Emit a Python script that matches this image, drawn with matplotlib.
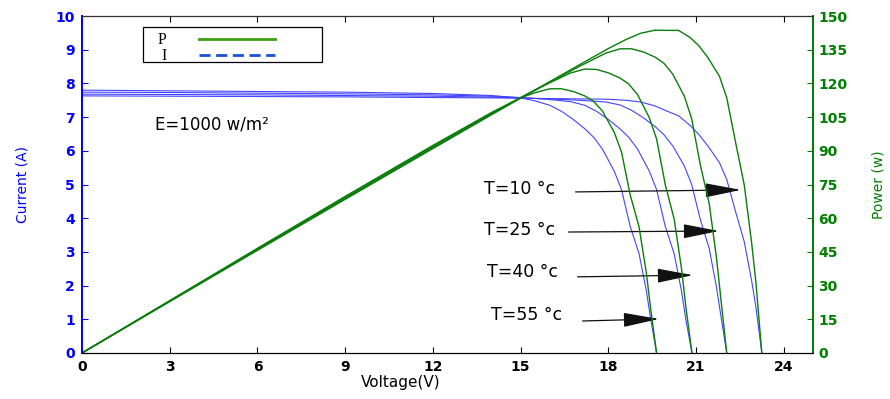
import matplotlib
matplotlib.use('Agg')
import matplotlib.pyplot as plt
from matplotlib.lines import Line2D
from matplotlib.patches import Rectangle

# temperatures of the four curves
temps = [10, 25, 40, 55]

# T = 10 °c
v10 = [0, 3, 6, 9, 12, 14, 15, 16, 17, 18, 18.6, 19.1, 19.6, 20.0, 20.4, 20.8, 21.1, 21.4, 21.8, 22.05, 22.35, 22.65, 22.9, 23.05, 23.25]
i10 = [7.63, 7.62, 7.61, 7.60, 7.58, 7.57, 7.56, 7.55, 7.54, 7.53, 7.50, 7.45, 7.33, 7.18, 7.04, 6.75, 6.48, 6.15, 5.65, 5.15, 4.20, 3.30, 2.15, 1.35, 0]
p10 = [0, 22.9, 45.7, 68.4, 91.0, 106.0, 113.4, 120.8, 128.2, 135.5, 139.5, 142.3, 143.7, 143.6, 143.6, 140.4, 136.7, 131.6, 123.2, 113.6, 93.9, 74.7, 49.2, 31.1, 0]

# T = 25 °c
v25 = [0, 3, 6, 9, 12, 14, 15, 16, 17, 17.9, 18.4, 18.8, 19.2, 19.6, 19.9, 20.2, 20.6, 20.85, 21.15, 21.45, 21.7, 21.85, 22.05]
i25 = [7.68, 7.67, 7.66, 7.64, 7.62, 7.59, 7.57, 7.54, 7.50, 7.45, 7.36, 7.20, 6.98, 6.72, 6.48, 6.15, 5.55, 5.00, 3.95, 3.10, 1.95, 1.10, 0]
p25 = [0, 23.0, 46.0, 68.8, 91.4, 106.3, 113.6, 120.6, 127.5, 133.4, 135.4, 135.4, 134.0, 131.7, 129.0, 124.2, 114.3, 104.3, 83.5, 66.5, 42.3, 24.0, 0]

# T = 40 °c
v40 = [0, 3, 6, 9, 12, 14, 15, 16, 16.7, 17.2, 17.6, 18.0, 18.4, 18.7, 19.0, 19.4, 19.65, 19.95, 20.25, 20.5, 20.65, 20.86]
i40 = [7.74, 7.73, 7.71, 7.69, 7.66, 7.62, 7.58, 7.52, 7.46, 7.35, 7.17, 6.93, 6.65, 6.40, 6.05, 5.40, 4.85, 3.75, 2.95, 1.85, 1.00, 0]
p40 = [0, 23.2, 46.3, 69.2, 91.9, 106.7, 113.7, 120.3, 124.6, 126.4, 126.2, 124.7, 122.4, 119.7, 115.0, 104.8, 95.3, 74.8, 59.7, 37.9, 20.7, 0]

# T = 55 °c
v55 = [0, 3, 6, 9, 12, 14, 15, 15.5, 16, 16.4, 16.8, 17.2, 17.5, 17.8, 18.2, 18.45, 18.75, 19.05, 19.3, 19.45, 19.65]
i55 = [7.80, 7.78, 7.76, 7.74, 7.70, 7.64, 7.57, 7.48, 7.35, 7.17, 6.93, 6.65, 6.40, 6.05, 5.40, 4.85, 3.75, 2.95, 1.85, 1.00, 0]
p55 = [0, 23.3, 46.6, 69.7, 92.4, 107.0, 113.6, 115.9, 117.6, 117.6, 116.4, 114.4, 112.0, 107.7, 98.3, 89.5, 70.3, 56.2, 35.7, 19.5, 0]

x_ticks = [0, 3, 6, 9, 12, 15, 18, 21, 24]
i_ticks = [0, 1, 2, 3, 4, 5, 6, 7, 8, 9, 10]
p_ticks = [0, 15, 30, 45, 60, 75, 90, 105, 120, 135, 150]

BLUE = '#0000ff'
GREEN = '#008000'


def setup_axes(fig):
    ax = fig.add_axes([82/890, 46/399, 731/890, 337/399])
    ax2 = ax.twinx()
    ax.set_xlim(0, 25)
    ax.set_ylim(0, 10)
    ax2.set_ylim(0, 150)
    ax.set_xticks(x_ticks)
    ax.set_yticks(i_ticks)
    ax2.set_yticks(p_ticks)
    ax.tick_params(axis='x', direction='in', top=True, length=4, pad=5,
                   labelsize=10, colors='black')
    ax.tick_params(axis='y', direction='in', length=4, pad=5,
                   labelsize=10, colors=BLUE)
    ax2.tick_params(axis='y', direction='in', length=4, pad=4,
                    labelsize=10, colors=GREEN)
    for a in (ax, ax2):
        for lab in a.get_xticklabels() + a.get_yticklabels():
            lab.set_fontweight('bold')
        a.spines['left'].set_color(BLUE)
        a.spines['right'].set_color(GREEN)
        a.spines['left'].set_linewidth(1.3)
        a.spines['right'].set_linewidth(1.3)
        a.spines['top'].set_color('#333333')
        a.spines['bottom'].set_color('black')
    ax.set_xlabel('Voltage(V)', fontsize=11, va='center')
    ax.xaxis.set_label_coords(0.436, -0.089)
    ax.set_ylabel('Current (A)', fontsize=10, color=BLUE, va='center')
    ax.yaxis.set_label_coords(-0.082, 0.5)
    ax2.set_ylabel('Power (w)', fontsize=10, color=GREEN, va='center', rotation=90)
    ax2.yaxis.set_label_coords(1.089, 0.5)
    return ax, ax2


def main():
    fig = plt.figure(figsize=(8.9, 3.99), dpi=100)
    ax, ax2 = setup_axes(fig)

    curves = [(v10, i10, p10), (v25, i25, p25), (v40, i40, p40), (v55, i55, p55)]
    for v, i, p in curves:
        ax.plot(v, i, color='#4444ff', linewidth=0.8)
        ax2.plot(v, p, color='#0a7d0a', linewidth=1.0)

    ax.text(2.5, 6.77, 'E=1000 w/m²', fontsize=12, va='center', ha='left')

    # labels and arrows for each temperature (text pos, arrow tail, arrow tip)
    notes = [((14.96, 4.87), (16.88, 4.78), (22.53, 4.84)),
             ((14.96, 3.65), (16.64, 3.59), (21.78, 3.62)),
             ((15.07, 2.40), (16.95, 2.26), (20.89, 2.31)),
             ((15.20, 1.13), (17.12, 0.95), (19.73, 1.01))]
    for t, (txt, tail, tip) in zip(temps, notes):
        ax.text(txt[0], txt[1], 'T=%d °c' % t, fontsize=12.5, ha='center', va='center')
        ax.annotate('', xy=tip, xytext=tail,
                    arrowprops=dict(arrowstyle='-|>,head_length=1.6,head_width=0.32',
                                    color='#111111', lw=0.9, mutation_scale=14,
                                    shrinkA=0, shrinkB=0))

    # legend box
    ax2.add_patch(Rectangle((0.083, 0.864), 0.245, 0.103, transform=ax2.transAxes,
                            facecolor='white', edgecolor='black', linewidth=0.9, zorder=5))
    handles = [Line2D([], [], color='#3c9f14', linewidth=2.0),
               Line2D([], [], color='#1a4fd6', linewidth=2.0, linestyle='--', dashes=(4, 2))]
    leg = ax2.legend(handles, ['P', 'I'], loc='upper left', bbox_to_anchor=(0.095, 0.97),
                     frameon=False, markerfirst=False, handlelength=4.8,
                     handletextpad=2.0, labelspacing=0.0, borderaxespad=0,
                     prop={'family': 'Liberation Serif', 'size': 11.5})
    leg.set_zorder(6)

    fig.savefig('out.png', dpi=100)


if __name__ == '__main__':
    main()
